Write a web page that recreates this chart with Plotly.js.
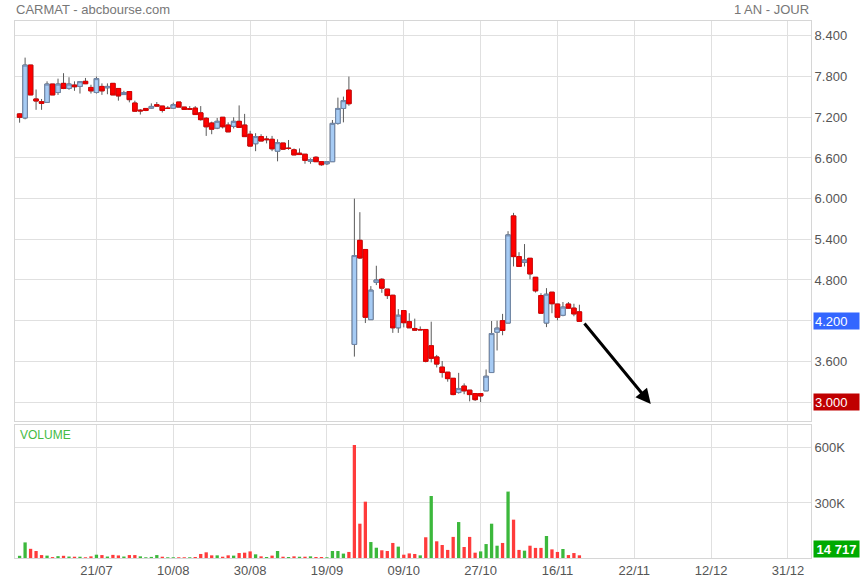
<!DOCTYPE html>
<html>
<head>
<meta charset="utf-8">
<script src="https://cdn.plot.ly/plotly-3.0.1.min.js"></script>
<style>
  html, body { margin: 0; padding: 0; background: #fff; }
  #chart { width: 860px; height: 580px; }
</style>
</head>
<body>
<div id="chart"></div>
<script>
// ---- Data ----
const openP = [7.25,7.19,7.97,7.47,7.43,7.42,7.69,7.565,7.70,7.625,7.675,7.655,7.73,7.64,7.565,7.655,7.635,7.70,7.625,7.535,
  7.58,7.41,7.305,7.33,7.335,7.385,7.365,7.335,7.335,7.425,7.35,7.325,7.335,7.265,7.185,7.115,7.04,7.20,7.085,7.065,
  7.14,7.085,6.95,6.81,6.915,6.88,6.875,6.70,6.82,6.745,6.72,6.67,6.655,6.55,6.61,6.545,6.515,6.545,7.11,7.33,
  7.60,3.85,5.385,5.25,4.215,4.765,4.81,4.665,4.575,4.095,4.35,4.185,4.085,4.07,4.07,3.83,3.665,3.515,3.44,3.35,
  3.14,3.235,3.175,3.125,3.125,3.165,3.435,4.03,4.20,4.165,5.745,5.145,5.06,5.12,4.84,4.57,4.165,4.62,4.445,4.28,
  4.445,4.385,4.33];
const highP = [7.26,8.08,7.97,7.61,7.47,7.73,7.69,7.77,7.85,7.79,7.73,7.735,7.78,7.68,7.80,7.70,7.70,7.70,7.625,7.59,
  7.58,7.445,7.32,7.33,7.405,7.425,7.365,7.365,7.415,7.425,7.35,7.365,7.365,7.365,7.20,7.135,7.19,7.20,7.125,7.20,
  7.375,7.25,7.00,6.965,6.95,6.925,6.925,6.875,6.82,6.865,6.74,6.74,6.655,6.595,6.625,6.545,6.545,7.16,7.49,7.505,
  7.80,6.00,5.80,5.25,4.71,5.01,4.826,4.665,4.58,4.37,4.35,4.31,4.23,4.115,4.07,4.185,3.695,3.605,3.44,3.35,
  3.43,3.275,3.175,3.125,3.125,3.48,4.195,4.20,4.30,5.52,5.79,5.21,5.33,5.12,4.84,4.605,4.68,4.62,4.445,4.475,
  4.475,4.45,4.435];
const lowP = [7.12,7.17,7.53,7.31,7.31,7.42,7.53,7.53,7.615,7.605,7.59,7.55,7.69,7.55,7.55,7.53,7.54,7.53,7.445,7.53,
  7.42,7.285,7.24,7.29,7.33,7.36,7.27,7.325,7.33,7.35,7.31,7.31,7.24,7.15,6.925,6.95,7.025,7.035,6.985,7.035,
  7.05,6.915,6.77,6.70,6.85,6.815,6.70,6.55,6.72,6.72,6.645,6.645,6.515,6.515,6.545,6.485,6.495,6.545,7.09,7.125,
  7.37,3.67,5.11,4.165,4.215,4.725,4.61,4.52,4.02,4.02,4.10,4.095,4.055,4.065,3.585,3.585,3.51,3.36,3.30,3.10,
  3.125,3.115,3.01,3.015,3.00,3.165,3.435,3.76,3.985,4.165,5.00,5.00,5.00,4.81,4.615,4.31,4.105,4.31,4.205,4.265,
  4.38,4.265,4.19];
const closeP = [7.20,7.97,7.53,7.44,7.405,7.69,7.53,7.69,7.625,7.69,7.65,7.725,7.695,7.59,7.77,7.59,7.655,7.53,7.515,7.565,
  7.46,7.29,7.295,7.30,7.36,7.365,7.30,7.33,7.385,7.35,7.315,7.32,7.24,7.165,7.06,7.025,7.14,7.06,6.985,7.14,
  7.05,6.915,6.775,6.915,6.85,6.87,6.735,6.825,6.73,6.74,6.645,6.65,6.565,6.575,6.545,6.50,6.545,7.11,7.33,7.445,
  7.40,5.16,5.125,4.25,4.65,4.80,4.68,4.57,4.095,4.28,4.17,4.095,4.06,4.065,3.60,3.645,3.56,3.435,3.345,3.11,
  3.20,3.165,3.11,3.035,3.09,3.38,4.01,4.09,4.055,5.465,5.145,5.00,5.095,4.89,4.64,4.31,4.59,4.45,4.25,4.40,
  4.385,4.30,4.19];
const volume = [12000,85000,50000,38000,16000,13000,5000,10000,12000,8000,7000,7000,4000,9000,18000,16000,8000,17000,14000,8000,
  16000,16000,9000,4000,6000,16000,7000,4000,4000,4000,4000,4000,5500,22000,31000,14500,14500,7000,14500,13000,
  27000,29000,36000,20000,9000,5500,13000,38000,7000,5500,9000,7000,7000,9000,5500,5500,4000,38000,38000,24000,
  33000,616000,187000,307000,87000,56000,42000,38000,82000,62000,18000,25000,22000,14500,113000,338000,91000,71000,44000,115000,
  196000,60000,115000,29000,36000,76000,187000,67000,82000,362000,209000,44000,40000,67000,55000,55000,120000,47000,33000,49000,
  16000,27000,14717];
const tickIndex = [14,28,42,56,70,84,98,112,126,140];
const tickLabels = ['21/07','10/08','30/08','19/09','09/10','27/10','16/11','22/11','12/12','31/12'];
const lastClose = 4.2;
const periodLow = 3.0;
const lastVolume = 14717;
const trendFrom = [102.7, 4.18];
const trendTo = [115, 2.97];

// ---- Build ----
const idx = closeP.map((_, i) => i);
const GREEN = '#3cb83c', RED = '#ff3b3b';
const volColors = closeP.map((c, i) => (i === 0 || c >= closeP[i - 1]) ? GREEN : RED);
const bodyTop = openP.map((o, i) => Math.max(o, closeP[i]));
const bodyBot = openP.map((o, i) => Math.min(o, closeP[i]));

// wicks (grey) – full candles
const wicks = {
  type: 'candlestick', x: idx, open: openP, high: highP, low: lowP, close: closeP,
  xaxis: 'x', yaxis: 'y',
  increasing: { fillcolor: '#a6cbf4', line: { color: '#5a5a5a', width: 1 } },
  decreasing: { fillcolor: '#ff0000', line: { color: '#5a5a5a', width: 1 } },
  whiskerwidth: 0, hoverinfo: 'skip', showlegend: false
};
// bodies on top, coloured outlines
const bodies = {
  type: 'candlestick', x: idx, open: openP, high: bodyTop, low: bodyBot, close: closeP,
  xaxis: 'x', yaxis: 'y',
  increasing: { fillcolor: '#a6cbf4', line: { color: '#6f86a8', width: 1 } },
  decreasing: { fillcolor: '#ff0000', line: { color: '#dd0000', width: 1 } },
  whiskerwidth: 0, hoverinfo: 'skip', showlegend: false
};
const vol = {
  type: 'bar', x: idx, y: volume, xaxis: 'x', yaxis: 'y2',
  marker: { color: volColors, line: { width: 0 } }, width: 0.6,
  hoverinfo: 'skip', showlegend: false
};

const GRID = '#e0e0e0', TXT = '#555555';
const layout = {
  width: 860, height: 580,
  margin: { l: 15, r: 49, t: 21, b: 22, pad: 0 },
  paper_bgcolor: '#ffffff', plot_bgcolor: '#ffffff',
  font: { family: 'Liberation Sans, Arial, sans-serif', size: 13, color: TXT },
  showlegend: false,
  boxgap: 0.12, boxgroupgap: 0.07, boxmode: 'overlay',
  xaxis: {
    range: [-0.84, 144.2], anchor: 'y2', tickmode: 'array', tickvals: tickIndex, ticktext: tickLabels,
    showgrid: true, gridcolor: GRID, gridwidth: 1, zeroline: false,
    showline: true, linecolor: '#d6d6d6', linewidth: 1, mirror: 'all', ticks: '',
    tickfont: { size: 13, color: TXT }, rangeslider: { visible: false }, fixedrange: true
  },
  yaxis: {
    domain: [0.2551, 1], range: [2.72, 8.62], side: 'right', anchor: 'x',
    tick0: 3, dtick: 0.6, tickformat: '.3f',
    showgrid: true, gridcolor: GRID, zeroline: false,
    showline: true, linecolor: '#d6d6d6', mirror: true, ticks: '',
    tickfont: { size: 13, color: TXT }, fixedrange: true
  },
  yaxis2: {
    domain: [0, 0.2477], range: [0, 725000], side: 'right', anchor: 'x',
    tickmode: 'array', tickvals: [300000, 600000], ticktext: ['300K', '600K'],
    showgrid: true, gridcolor: GRID, zeroline: false,
    showline: true, linecolor: '#d6d6d6', mirror: true, ticks: '',
    tickfont: { size: 13, color: TXT }, fixedrange: true
  },
  annotations: [
    { xref: 'paper', yref: 'paper', x: 0, y: 1, xanchor: 'left', yanchor: 'middle', yshift: 12, xshift: -1,
      text: 'CARMAT - abcbourse.com', showarrow: false, font: { size: 13, color: '#777777' } },
    { xref: 'paper', yref: 'paper', x: 1, y: 1, xanchor: 'right', yanchor: 'middle', yshift: 12,
      text: '1 AN - JOUR', showarrow: false, font: { size: 13, color: '#777777' } },
    { xref: 'paper', yref: 'paper', x: 0, y: 0.2477, xanchor: 'left', yanchor: 'top', xshift: 3, yshift: -1,
      text: 'VOLUME', showarrow: false, font: { size: 12, color: '#44bb44' } },
    { xref: 'paper', yref: 'y', x: 1, y: lastClose, xanchor: 'left', yanchor: 'middle', xshift: 2,
      text: lastClose.toFixed(3), showarrow: false, bgcolor: '#3366ff', width: 43, height: 14, align: 'left', borderpad: 1,
      font: { size: 13, color: '#ffffff' } },
    { xref: 'paper', yref: 'y', x: 1, y: periodLow, xanchor: 'left', yanchor: 'middle', xshift: 2,
      text: periodLow.toFixed(3), showarrow: false, bgcolor: '#c00000', width: 43, height: 14, align: 'left', borderpad: 1,
      font: { size: 13, color: '#ffffff' } },
    { xref: 'paper', yref: 'y2', x: 1, y: 0, xanchor: 'left', yanchor: 'bottom', xshift: 2,
      text: '<b>' + lastVolume.toLocaleString('en-US').replace(/,/g, ' ') + '</b>', showarrow: false,
      bgcolor: '#00aa00', width: 43, height: 14, align: 'center', borderpad: 1,
      font: { size: 13, color: '#ffffff' } },
    { xref: 'x', yref: 'y', x: trendTo[0], y: trendTo[1], axref: 'x', ayref: 'y', ax: trendFrom[0], ay: trendFrom[1],
      text: '', showarrow: true, arrowhead: 2, arrowsize: 1, arrowwidth: 3, arrowcolor: '#000000' }
  ]
};

Plotly.newPlot('chart', [wicks, bodies, vol], layout, { staticPlot: true, displayModeBar: false });
</script>
</body>
</html>
